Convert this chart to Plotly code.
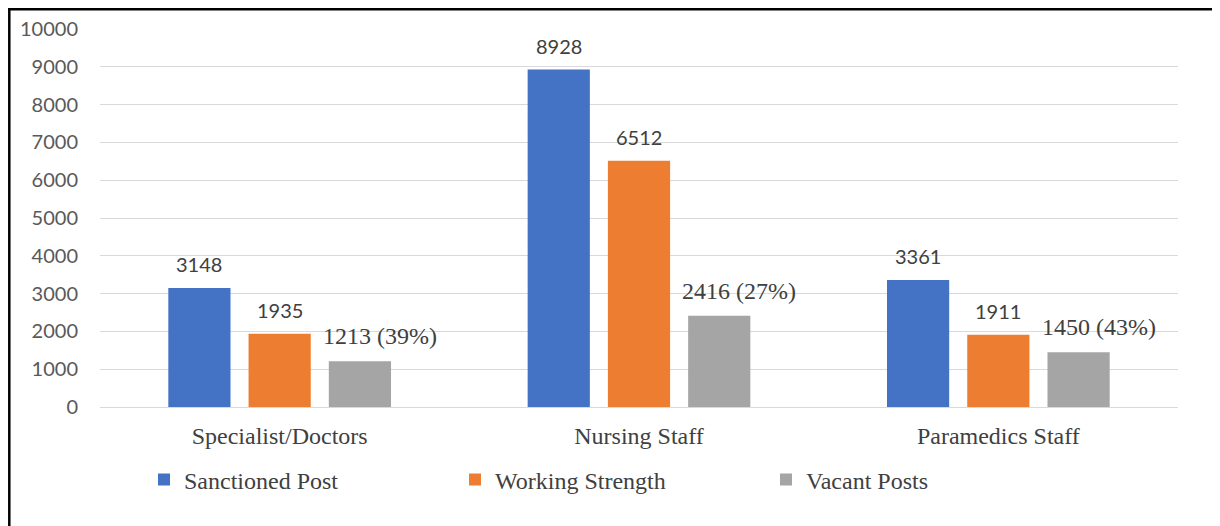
import plotly.graph_objects as go

categories = ["Specialist/Doctors", "Nursing Staff", "Paramedics Staff"]
series_names = ["Sanctioned Post", "Working Strength", "Vacant Posts"]
sanctioned = [3148, 8928, 3361]
working = [1935, 6512, 1911]
vacant = [1213, 2416, 1450]
vacant_pct = ["39%", "27%", "43%"]
colors = ["#4472C4", "#ED7D31", "#A5A5A5"]
y_ticks = list(range(0, 10001, 1000))
y_ticktext = [str(v) for v in y_ticks]

W, H = 1220, 526
OFF = 8  # page body margin
# target page-pixel plot area: x 100..1178, y 29..407
L = 100 - OFF
T = 29 - OFF
pw, ph = 1078, 378
R = W - L - pw
B = H - T - ph

bargap = 0.33
bargroupgap = 0.225

sans = "Lato, 'Open Sans', sans-serif"
serif = "'Liberation Serif', 'Times New Roman', serif"

fig = go.Figure()
for name, vals, col in zip(series_names, [sanctioned, working, vacant], colors):
    fig.add_trace(go.Bar(x=categories, y=vals, name=name, marker=dict(color=col, line=dict(width=0))))

slot = (1 - bargap) / 3
annotations = []
for i in range(len(categories)):
    for j, vals in enumerate([sanctioned, working, vacant]):
        xpos = i + (j - 1) * slot
        if j < 2:
            annotations.append(dict(x=xpos, y=vals[i], xref="x", yref="y", text=str(vals[i]),
                                    showarrow=False, yanchor="middle", yshift=24,
                                    font=dict(family=sans, size=20, color="#404040")))
        else:
            annotations.append(dict(x=xpos, y=vals[i], xref="x", yref="y",
                                    text=f"{vals[i]} ({vacant_pct[i]})",
                                    showarrow=False, yanchor="middle", yshift=25, xshift=20,
                                    font=dict(family=serif, size=24, color="#404040")))

# helpers converting page pixels to paper coordinates
def px_x(p):
    return (p - 100) / pw

def px_y(p):
    return (407 - p) / ph

shapes = [
    dict(type="line", xref="paper", yref="paper", x0=px_x(9.3), x1=px_x(9.3), y0=px_y(9), y1=px_y(560),
         line=dict(color="black", width=2.5)),
    dict(type="line", xref="paper", yref="paper", x0=px_x(8), x1=px_x(1260), y0=px_y(9.3), y1=px_y(9.3),
         line=dict(color="black", width=2.5)),
]

fig.update_layout(
    width=W, height=H,
    margin=dict(l=L, r=R, t=T, b=B, autoexpand=False),
    paper_bgcolor="white", plot_bgcolor="white",
    barmode="group", bargap=bargap, bargroupgap=bargroupgap,
    showlegend=True,
    legend=dict(orientation="h", x=px_x(144), xanchor="left", y=px_y(480), yanchor="middle",
                font=dict(family=serif, size=24, color="#404040"),
                entrywidth=266, entrywidthmode="pixels", traceorder="normal"),
    annotations=annotations,
    shapes=shapes,
    xaxis=dict(type="category", showgrid=False, showline=False, ticks="",
               tickfont=dict(family=serif, size=24, color="#404040"), ticklabelstandoff=12),
    yaxis=dict(range=[0, 10000], tickvals=y_ticks, ticktext=y_ticktext, showgrid=True,
               gridcolor="#D9D9D9", gridwidth=1,
               zeroline=True, zerolinecolor="#D9D9D9", zerolinewidth=1, showline=False,
               tickfont=dict(family=sans, size=20, color="#595959"), ticks="", ticklabelstandoff=21),
)

fig.write_html("out.html")
